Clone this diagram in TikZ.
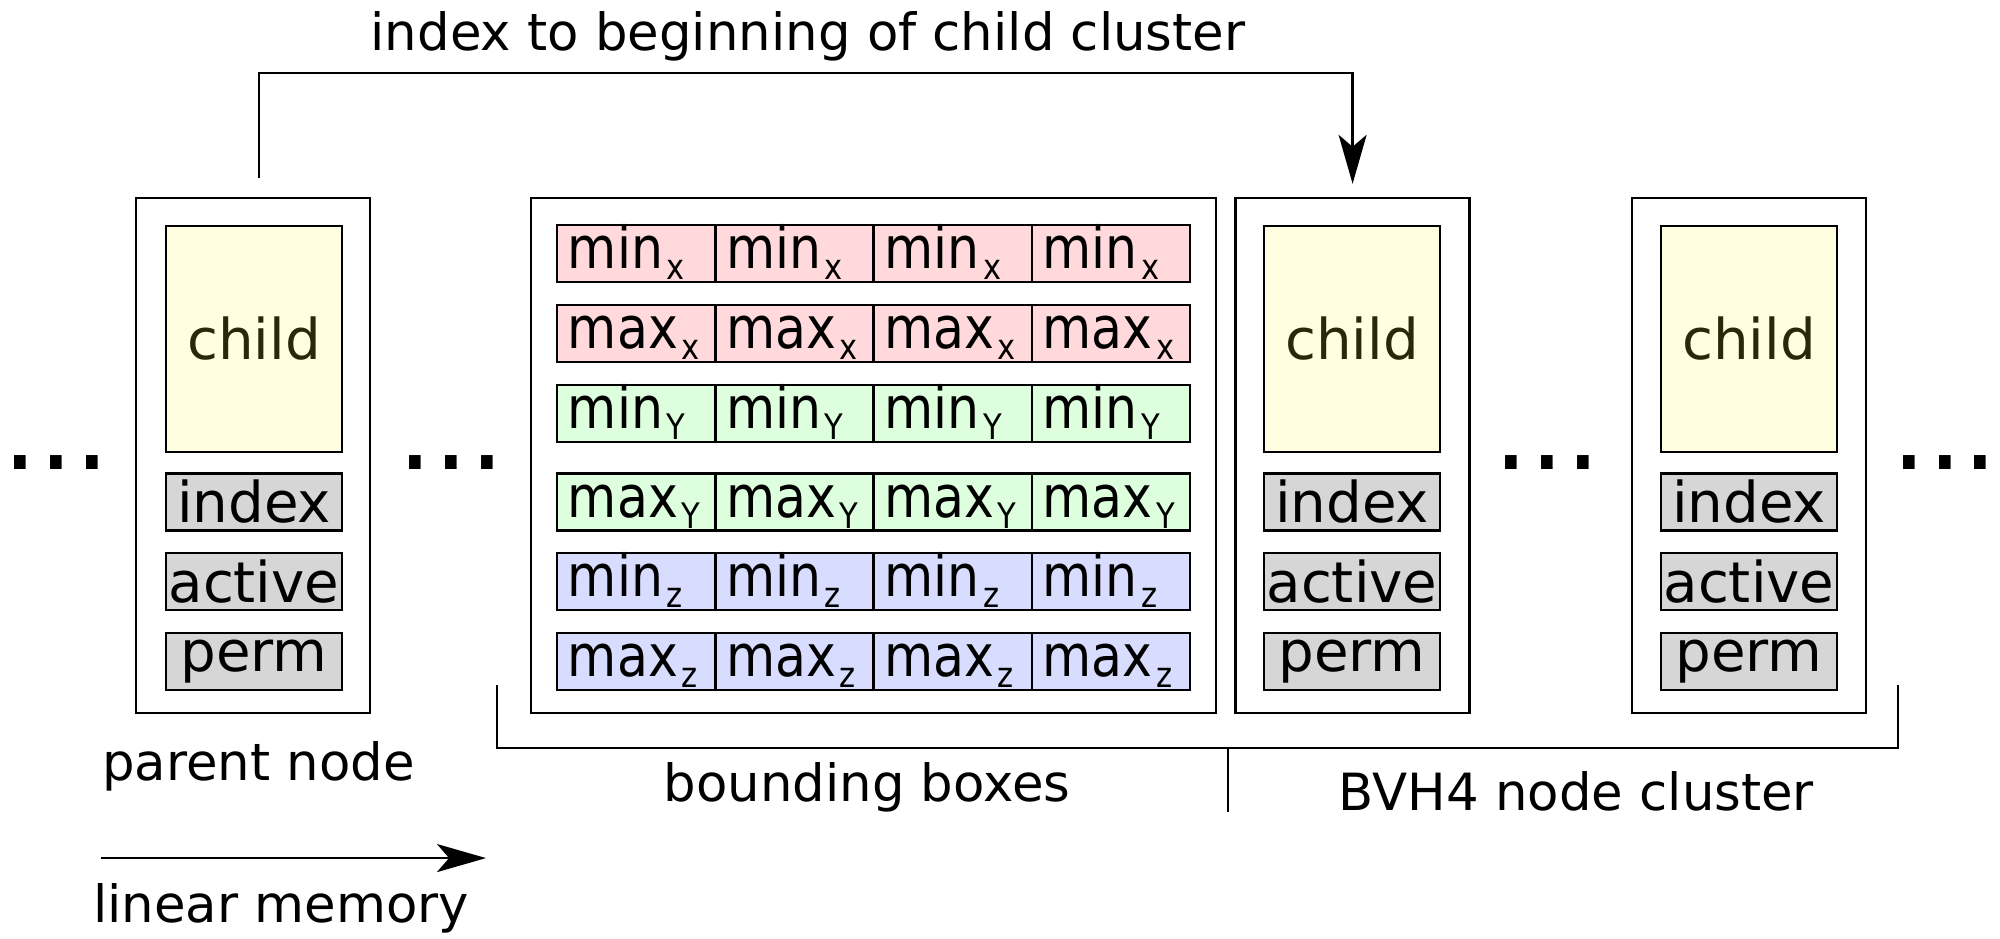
\documentclass[tikz,border=0pt]{standalone}
\usepackage{fontspec}
\setmainfont{DejaVu Sans}
\newfontfamily\cellfont[FakeStretch=0.87]{DejaVu Sans}
\usetikzlibrary{arrows.meta}
\definecolor{childfill}{RGB}{255,254,224}
\definecolor{childtext}{RGB}{43,40,10}
\definecolor{fieldfill}{RGB}{214,214,214}
\definecolor{xfill}{RGB}{255,217,220}
\definecolor{yfill}{RGB}{221,255,221}
\definecolor{zfill}{RGB}{216,221,255}
\newcommand{\lowsub}[1]{\kern1pt\raisebox{-0.19em}{\fontsize{10}{10}\selectfont #1}}

\begin{document}
\begin{tikzpicture}[scale=0.1, line width=0.7pt,
  outer/.style={draw, minimum width=2.34cm, minimum height=5.15cm},
  childbox/.style={draw, fill=childfill, text=childtext, minimum width=1.76cm, minimum height=2.26cm, font=\fontsize{16}{19}\selectfont},
  fieldbox/.style={draw, fill=fieldfill, minimum width=1.76cm, minimum height=0.57cm, font=\fontsize{16}{19}\selectfont},
  cell/.style={draw, minimum width=1.5825cm, minimum height=0.57cm, inner xsep=0.11cm, text width=1.3625cm, align=left, text height=0.42cm, text depth=0.12cm, font=\cellfont\fontsize{16.5}{19}\selectfont},
  lbl/.style={anchor=base, font=\fontsize{14.6}{17}\selectfont},
  dots/.style={anchor=base, font=\fontsize{32}{36}\selectfont},
  link/.style={-{Stealth[length=0.49cm,width=0.28cm,inset=0.12cm]}}]
\tikzstyle{every node}+=[inner sep=0pt]
\useasboundingbox (0,0) rectangle (200,-93.8);
\node [lbl] (title) at (80.8,-5.0) {index to beginning of child cluster};
\node [dots] (dotsA) at (5.65,-46.9) {...};
\node [outer] (parent) at (25.3,-45.55) {};
\node [childbox] (pchild) at (25.4,-33.9) {child};
\node [fieldbox] (pindex) at (25.4,-50.2) {index};
\node [fieldbox] (pactive) at (25.4,-58.15) {active};
\node [fieldbox] (pperm) at (25.4,-66.15) {perm};
\node [dots] (dotsB) at (45.15,-46.9) {...};
\node [outer, minimum width=6.85cm] (bboxes) at (87.35,-45.55) {};
\node [cell, fill=xfill] (minxA) at (63.61,-25.35) {min\lowsub{x}};
\node [cell, fill=xfill] (minxB) at (79.44,-25.35) {min\lowsub{x}};
\node [cell, fill=xfill] (minxC) at (95.26,-25.35) {min\lowsub{x}};
\node [cell, fill=xfill] (minxD) at (111.09,-25.35) {min\lowsub{x}};
\node [cell, fill=xfill] (maxxA) at (63.61,-33.35) {max\lowsub{x}};
\node [cell, fill=xfill] (maxxB) at (79.44,-33.35) {max\lowsub{x}};
\node [cell, fill=xfill] (maxxC) at (95.26,-33.35) {max\lowsub{x}};
\node [cell, fill=xfill] (maxxD) at (111.09,-33.35) {max\lowsub{x}};
\node [cell, fill=yfill] (minyA) at (63.61,-41.35) {min\lowsub{Y}};
\node [cell, fill=yfill] (minyB) at (79.44,-41.35) {min\lowsub{Y}};
\node [cell, fill=yfill] (minyC) at (95.26,-41.35) {min\lowsub{Y}};
\node [cell, fill=yfill] (minyD) at (111.09,-41.35) {min\lowsub{Y}};
\node [cell, fill=yfill] (maxyA) at (63.61,-50.2) {max\lowsub{Y}};
\node [cell, fill=yfill] (maxyB) at (79.44,-50.2) {max\lowsub{Y}};
\node [cell, fill=yfill] (maxyC) at (95.26,-50.2) {max\lowsub{Y}};
\node [cell, fill=yfill] (maxyD) at (111.09,-50.2) {max\lowsub{Y}};
\node [cell, fill=zfill] (minzA) at (63.61,-58.15) {min\lowsub{z}};
\node [cell, fill=zfill] (minzB) at (79.44,-58.15) {min\lowsub{z}};
\node [cell, fill=zfill] (minzC) at (95.26,-58.15) {min\lowsub{z}};
\node [cell, fill=zfill] (minzD) at (111.09,-58.15) {min\lowsub{z}};
\node [cell, fill=zfill] (maxzA) at (63.61,-66.15) {max\lowsub{z}};
\node [cell, fill=zfill] (maxzB) at (79.44,-66.15) {max\lowsub{z}};
\node [cell, fill=zfill] (maxzC) at (95.26,-66.15) {max\lowsub{z}};
\node [cell, fill=zfill] (maxzD) at (111.09,-66.15) {max\lowsub{z}};
\node [outer] (nodeA) at (135.25,-45.55) {};
\node [childbox] (achild) at (135.2,-33.9) {child};
\node [fieldbox] (aindex) at (135.2,-50.2) {index};
\node [fieldbox] (aactive) at (135.2,-58.15) {active};
\node [fieldbox] (aperm) at (135.2,-66.15) {perm};
\node [dots] (dotsC) at (154.75,-46.9) {...};
\node [outer] (nodeB) at (174.9,-45.55) {};
\node [childbox] (bchild) at (174.9,-33.9) {child};
\node [fieldbox] (bindex) at (174.9,-50.2) {index};
\node [fieldbox] (bactive) at (174.9,-58.15) {active};
\node [fieldbox] (bperm) at (174.9,-66.15) {perm};
\node [dots] (dotsD) at (194.5,-46.9) {...};
\draw [link] (parent.north) ++(0.6,1.9) -- ++(0,10.5) -| ([yshift=1.3cm]nodeA.north);
\coordinate (brL) at (49.7,-68.5);
\coordinate (brR) at (189.8,-68.5);
\coordinate (brM) at (122.8,-81.2);
\draw (brL) -- ++(0,-6.3) -| (brR);
\draw (brM) -- ++(0,6.4);
\node [lbl] (parentlbl) at (25.85,-78.0) {parent node};
\node [lbl] (bboxlbl) at (86.7,-80.1) {bounding boxes};
\node [lbl] (clusterlbl) at (157.65,-81.0) {BVH4 node cluster};
\coordinate (memA) at (10.1,-85.8);
\coordinate (memB) at (48.6,-85.8);
\draw [link] (memA) -- (memB);
\node [lbl] (memlbl) at (28.1,-92.2) {linear memory};
\end{tikzpicture}
\end{document}
